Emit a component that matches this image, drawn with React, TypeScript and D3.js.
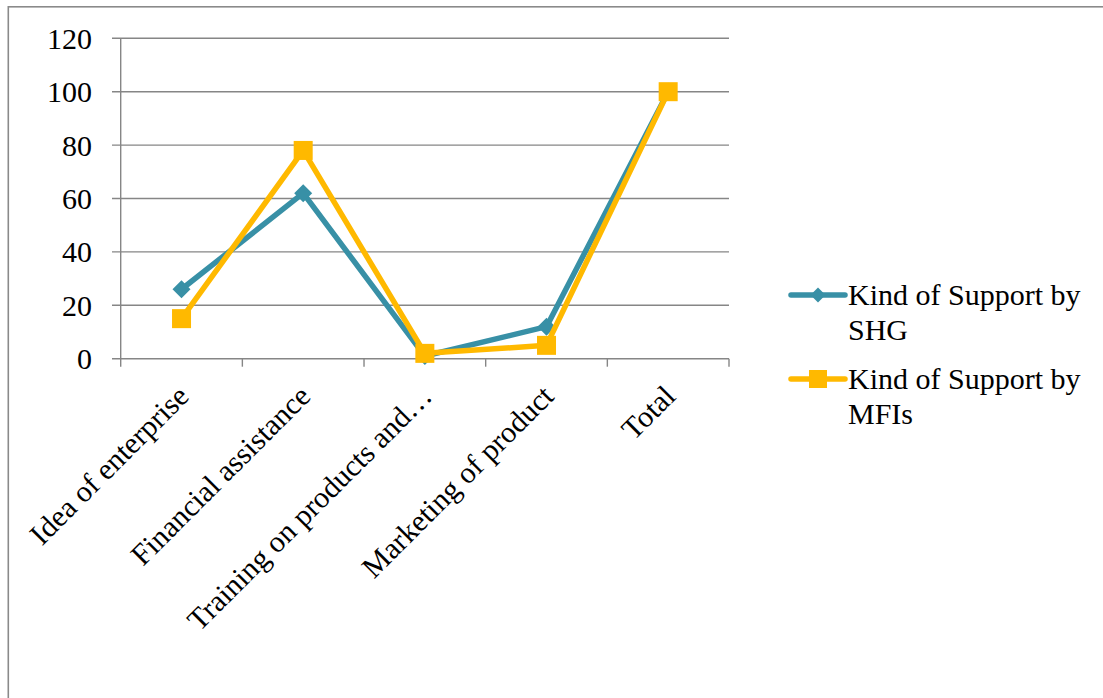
import React from "react";
import * as d3 from "d3";

const categories = ["Idea of enterprise", "Financial assistance", "Training on products and…", "Marketing of product", "Total"];
const shgValues = [26, 62, 1, 12, 100];
const mfiValues = [15, 78, 2, 5, 100];
const yTicks = [0, 20, 40, 60, 80, 100, 120];
const seriesNames = ["Kind of Support by SHG", "Kind of Support by MFIs"];

const W = 1103;
const H = 698;
const FONT = "Liberation Serif, Times New Roman, Tinos, DejaVu Serif, serif";
const TEAL = "#3890A6";
const GOLD = "#FFB900";
const GRID = "#868686";
const ts: React.CSSProperties = { fontFamily: FONT, fontSize: 30 };

export default function App() {
  const x = d3.scaleBand<string>().domain(categories).range([120.7, 729]).padding(0);
  const y = d3.scaleLinear().domain([0, 120]).range([358.7, 38.3]);
  const cx = (c: string) => (x(c) as number) + x.bandwidth() / 2;
  const line = d3.line<number>().x((_, i) => cx(categories[i])).y((v) => y(v));
  const bounds = [...categories.map((c) => x(c) as number), 729];

  const diamond = (px: number, py: number, r: number) =>
    `M${px},${py - r}L${px + r},${py}L${px},${py + r}L${px - r},${py}Z`;

  return (
    <svg width={W} height={H} style={{ position: "absolute", left: 0, top: 0, display: "block" }}>
      <rect x={0} y={0} width={W} height={H} fill="#fff" />
      <rect x={8.3} y={6.8} width={1300} height={900} fill="none" stroke="#8a8a8a" strokeWidth={1.6} />
      {yTicks.map((t) => (
        <g key={t}>
          <line x1={112} x2={729} y1={y(t)} y2={y(t)} stroke={GRID} strokeWidth={1.4} />
          <text x={92} y={y(t)} dy="0.35em" textAnchor="end" style={ts} fill="#000">
            {t}
          </text>
        </g>
      ))}
      <line x1={120.7} x2={120.7} y1={y(120)} y2={y(0)} stroke={GRID} strokeWidth={1.4} />
      {bounds.map((b, i) => (
        <line key={i} x1={b} x2={b} y1={y(0)} y2={y(0) + 8} stroke={GRID} strokeWidth={1.4} />
      ))}
      {categories.map((c) => {
        const ax = cx(c) + 9;
        const ay = 398;
        return (
          <text key={c} x={ax} y={ay} textAnchor="end" style={ts} fill="#000" transform={`rotate(-45 ${ax} ${ay})`}>
            {c}
          </text>
        );
      })}
      <path d={line(shgValues) || ""} fill="none" stroke={TEAL} strokeWidth={5.5} strokeLinejoin="round" />
      {shgValues.map((v, i) => (
        <path key={i} d={diamond(cx(categories[i]), y(v), 9)} fill={TEAL} />
      ))}
      <path d={line(mfiValues) || ""} fill="none" stroke={GOLD} strokeWidth={5.5} strokeLinejoin="round" />
      {mfiValues.map((v, i) => (
        <rect key={i} x={cx(categories[i]) - 9.5} y={y(v) - 9.5} width={19} height={19} fill={GOLD} />
      ))}
      <g>
        <line x1={791} x2={845} y1={295} y2={295} stroke={TEAL} strokeWidth={5.5} strokeLinecap="round" />
        <path d={diamond(818, 295, 7.5)} fill={TEAL} />
        <text x={848} y={305} style={ts} fill="#000">Kind of Support by</text>
        <text x={848} y={340} style={ts} fill="#000">SHG</text>
        <line x1={791} x2={845} y1={379} y2={379} stroke={GOLD} strokeWidth={5.5} strokeLinecap="round" />
        <rect x={809} y={370} width={18} height={18} fill={GOLD} />
        <text x={848} y={389} style={ts} fill="#000">Kind of Support by</text>
        <text x={848} y={424} style={ts} fill="#000">MFIs</text>
      </g>
      <title>{seriesNames.join(", ")}</title>
    </svg>
  );
}
